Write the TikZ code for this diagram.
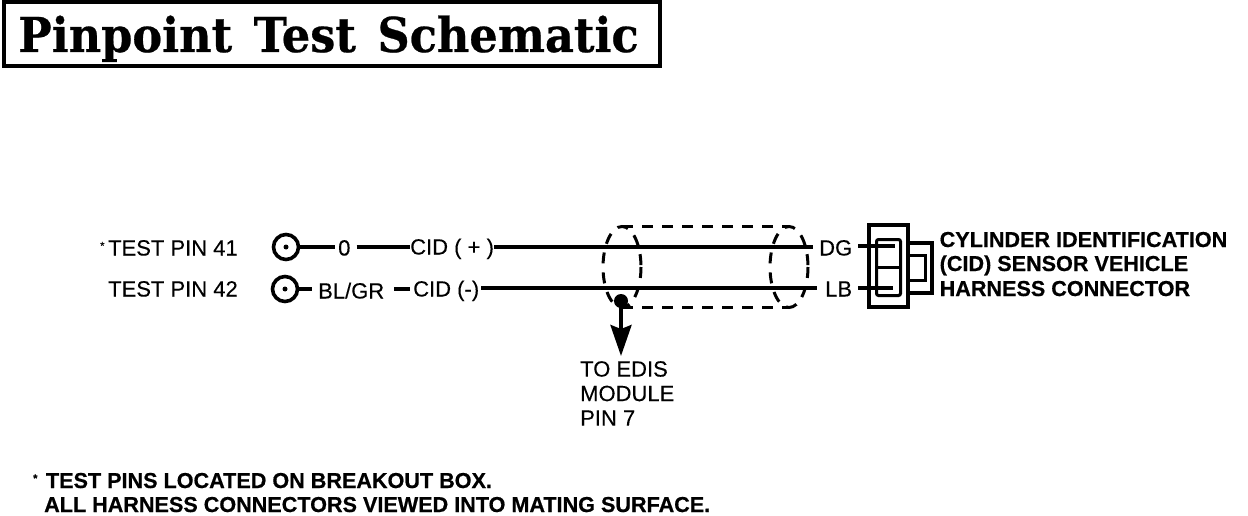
\documentclass[tikz,border=0pt]{standalone}
\usepackage{fontspec}
\setmainfont[FakeBold=0.25,BoldFeatures={FakeBold=0.6}]{Liberation Sans}
\newfontfamily\titlefont[BoldFeatures={FakeStretch=0.93,FakeBold=0.5}]{DejaVu Serif}
\usetikzlibrary{arrows.meta}
\tikzset{
  lab/.style={anchor=west,inner xsep=0pt,inner ysep=0pt,text height=15pt,text depth=0pt,font=\fontsize{22}{24}\selectfont},
  boldlab/.style={anchor=base west,inner sep=0pt,font=\fontsize{21.6}{24}\selectfont\bfseries},
  wire/.style={line width=3.4pt},
  shield/.style={line width=3pt,dash pattern=on 11pt off 9pt},
  pinring/.style={circle,draw,line width=3.6pt,minimum size=25pt,inner sep=0pt},
  pindot/.style={circle,fill,minimum size=5pt,inner sep=0pt},
  conn/.style={draw,line width=3.6pt,inner sep=0pt,anchor=north west}
}
\begin{document}
\begin{tikzpicture}[x=1pt,y=-1pt]
\useasboundingbox (0,0) rectangle (1248,516);
% title
\node[draw,line width=4pt,anchor=north west,minimum width=656pt,minimum height=64pt,inner sep=0pt] (titlebox) at (2,0) {};
\node[anchor=base west,inner sep=0pt] (title) at (18,52) {\titlefont\bfseries\fontsize{48}{60}\selectfont Pinpoint\hspace{6pt} Test\hspace{6pt} Schematic};
% left labels
\node[lab] (t41) at (100,248) {\raisebox{6pt}{\fontsize{11}{12}\selectfont*}\,TEST PIN 41};
\node[lab] (t42) at (108,289) {TEST PIN 42};
\node[pinring] (p41) at (286,247) {};
\node[pindot] at (p41.center) {};
\node[pinring] (p42) at (285,289) {};
\node[pindot] at (p42.center) {};
\node[lab] (zero) at (338,248) {0};
\node[lab] (cidp) at (410,247) {CID ( + )};
\node[lab] (blgr) at (318,291) {BL/GR};
\node[lab] (cidm) at (413,289) {CID (-)};
\node[lab] (dg) at (819,248) {DG};
\node[lab] (lb) at (825,289) {LB};
% wires
\draw[wire,shorten >=3pt] (p41) -- (zero.west |- p41);
\draw[wire,shorten <=6pt] (zero.east |- p41) -- (cidp.west |- p41);
\draw[wire,shorten >=6pt] (cidp.east |- p41) -- (dg.west |- p41);
\draw[wire,shorten >=6pt] (p42) -- (blgr.west |- p42);
\draw[wire,shorten <=10pt,shorten >=3pt] (blgr.east |- p42) -- (cidm.west |- p42);
\draw[wire,shorten <=2pt,shorten >=8pt] (cidm.east |- 0,288) -- (lb.west |- 0,288);
% shield
\coordinate (sa) at (622,226);
\coordinate (sb) at (788,226);
\coordinate (sc) at (788,307);
\coordinate (sd) at (622,307);
\draw[shield] (622,267) ellipse [x radius=19,y radius=40.5];
\draw[shield] (789,267) ellipse [x radius=19,y radius=40.5];
\draw[shield] (sa) -- (sb);
\draw[shield] (sd) -- (sc);
% drain
\node[circle,fill,minimum size=14pt,inner sep=0pt] (drain) at (621,301) {};
\coordinate (arrowend) at (621,356);
\draw[line width=3.6pt,-{Stealth[length=31pt,width=21pt,inset=4pt]}] (drain) -- (arrowend);
\node[anchor=north west,inner sep=0pt,font=\fontsize{22}{24.5}\selectfont,align=left] (edis) at (580,361) {TO EDIS\\MODULE\\PIN 7};
% connector
\node[conn,minimum width=39.4pt,minimum height=82.4pt] (shell) at (867,223) {};
\node[conn,line width=3pt,rounded corners=2pt,minimum width=24pt,minimum height=56pt] (insert) at (875,238) {};
\draw[line width=3pt] (insert.west) -- (insert.east);
\draw[line width=3.4pt] (shell.east |- 0,243) -- (932,243) -- (932,293) -- (shell.east |- 0,293);
\draw[line width=3pt] (shell.east |- 0,255) -- (925,255) -- (925,280) -- (shell.east |- 0,280);
\draw[wire,shorten <=6pt] (dg.east |- 0,246) -- (895,246);
\draw[wire,shorten <=6pt] (lb.east |- 0,288) -- (893,288);
% right labels
\node[boldlab] (r1) at (939.5,247) {CYLINDER IDENTIFICATION};
\node[boldlab] (r2) at (939.5,271) {(CID) SENSOR VEHICLE};
\node[boldlab] (r3) at (939.5,296) {HARNESS CONNECTOR};
% notes
\node[boldlab] (n1) at (33,488) {\raisebox{6pt}{\fontsize{11}{12}\selectfont*}\hspace{8.5pt}TEST PINS LOCATED ON BREAKOUT BOX.};
\node[boldlab] (n2) at (44,512) {ALL HARNESS CONNECTORS VIEWED INTO MATING SURFACE.};
\end{tikzpicture}
\end{document}
